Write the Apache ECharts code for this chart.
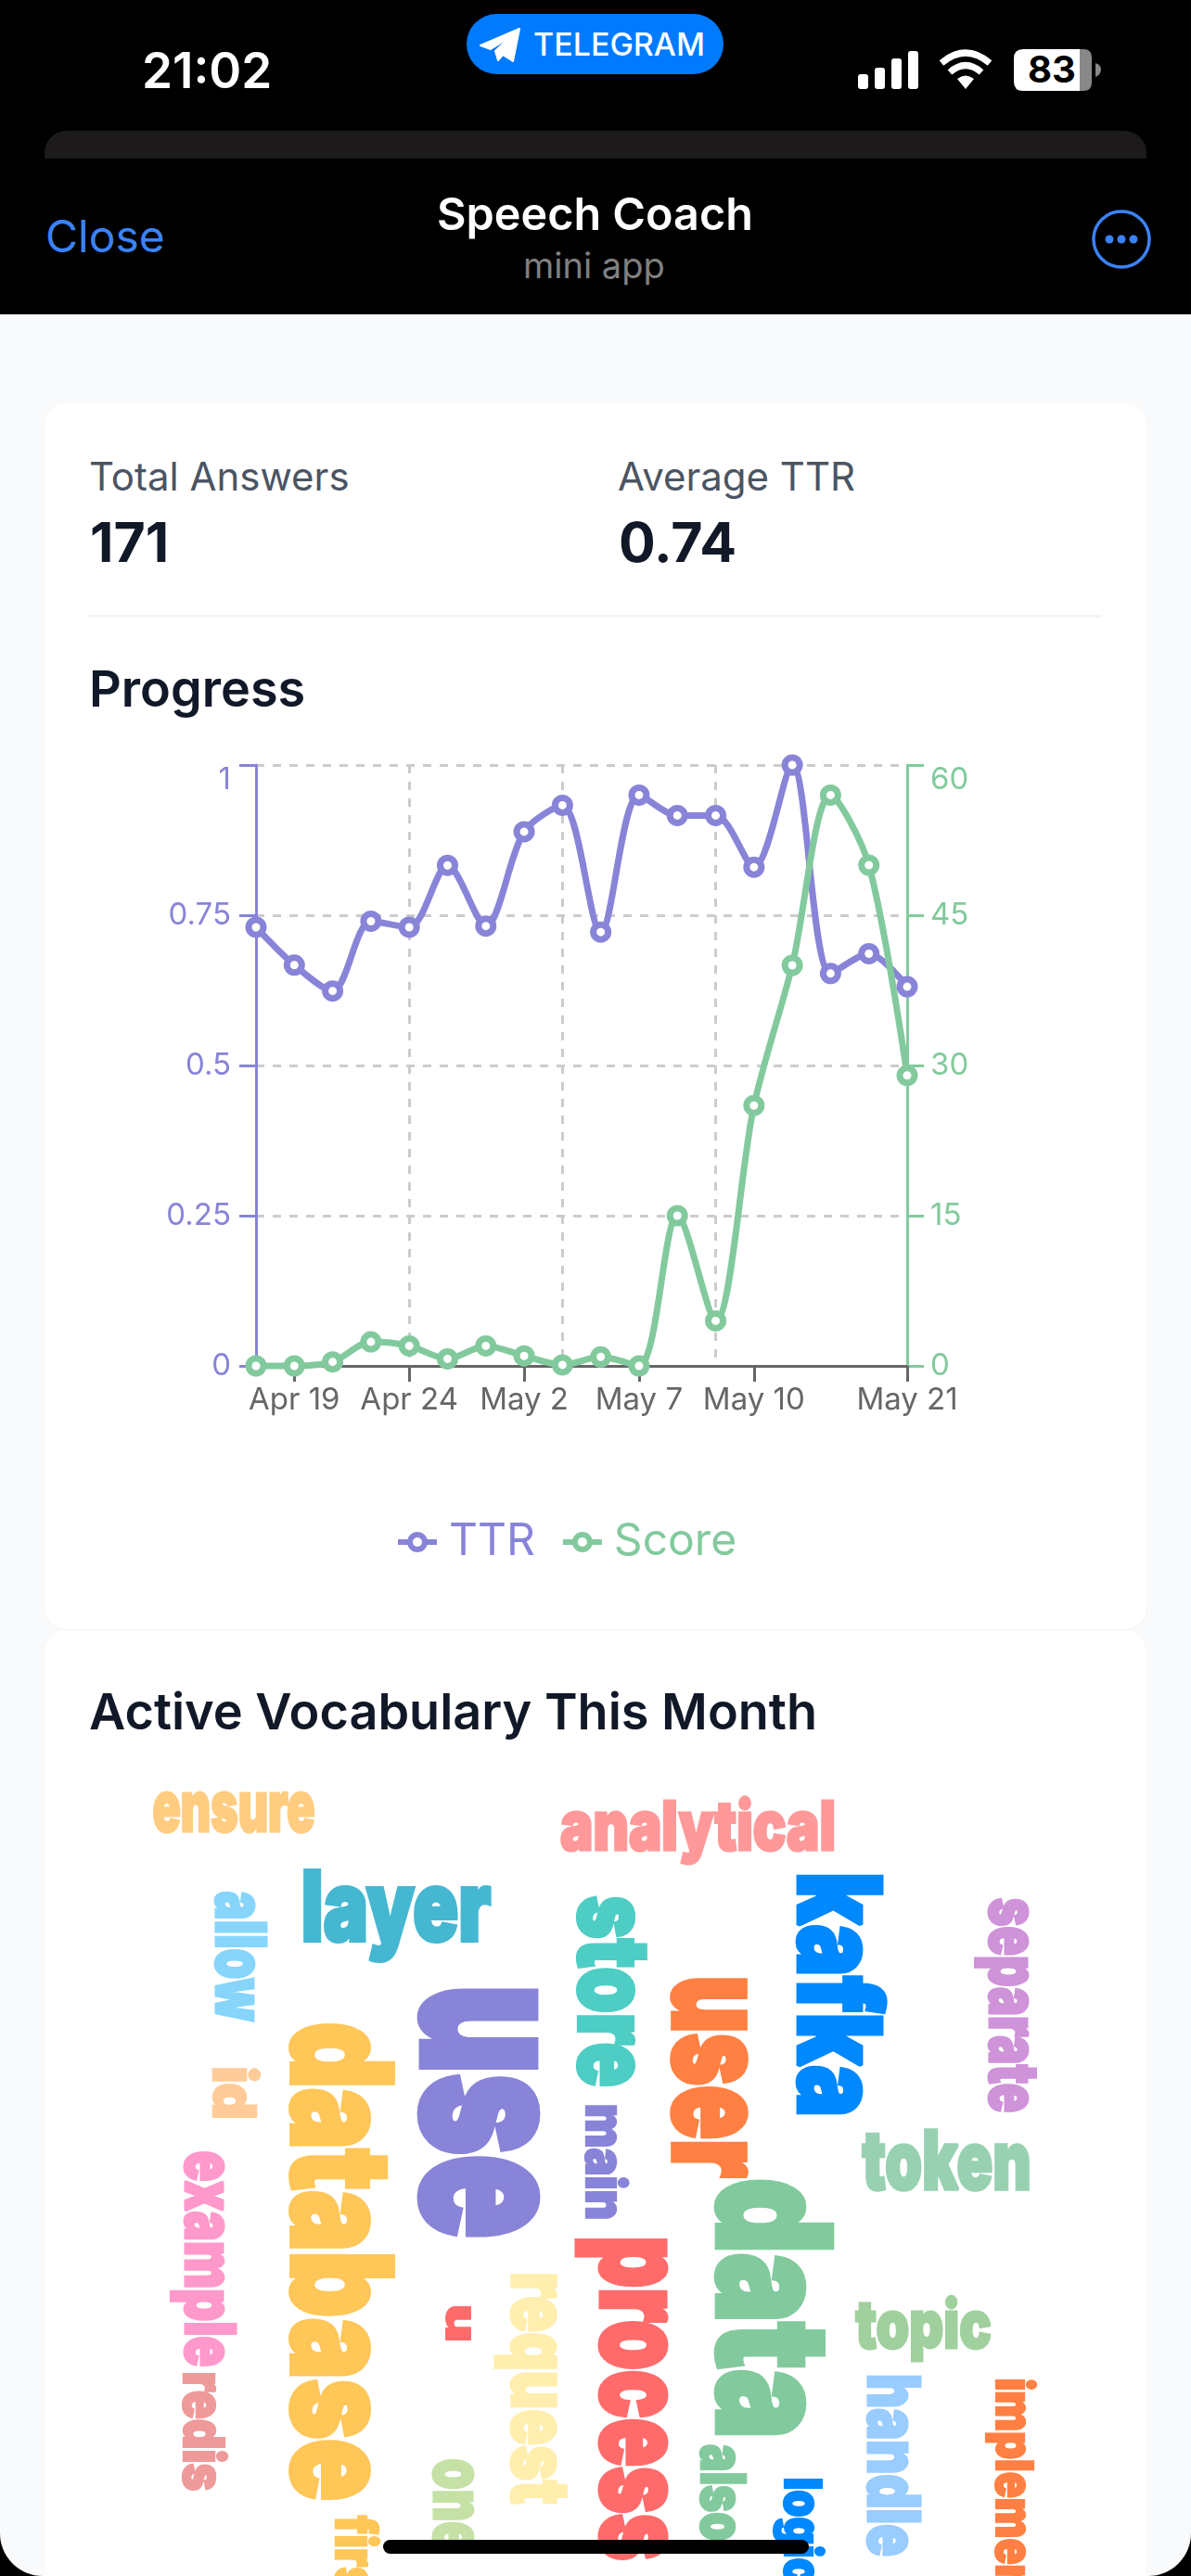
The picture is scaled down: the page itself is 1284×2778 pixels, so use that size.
<!DOCTYPE html>
<html>
<head>
<meta charset="utf-8">
<title>Speech Coach</title>
<script src="https://cdn.jsdelivr.net/npm/echarts@6/dist/echarts.min.js"></script>
<style>
html,body{margin:0;padding:0;background:#000;width:1284px;height:2778px;overflow:hidden;}
body{font-family:Inter,"Noto Sans",sans-serif;}
#screen{position:absolute;left:0;top:0;width:1284px;height:2778px;background:#f9fafb;overflow:hidden;border-radius:0 0 46px 46px;}
#topbar{position:absolute;left:0;top:0;width:1284px;height:339px;background:#000;}
#sheet{position:absolute;left:48px;top:141px;width:1188px;height:30px;background:#1c1a1a;border-radius:24px 24px 0 0;}
.t{position:absolute;white-space:nowrap;line-height:1;}
.card{position:absolute;left:48px;width:1188px;background:#fff;border-radius:24px;box-shadow:0 1px 3px rgba(0,0,0,.04);}
#pill{position:absolute;left:503px;top:15px;width:277px;height:65px;border-radius:33px;background:#007aff;}
#homebar{position:absolute;left:413px;top:2739px;width:459px;height:15px;border-radius:8px;background:#000;}
#progress{position:absolute;left:48px;top:760px;width:1188px;height:990px;}
#cloud{position:absolute;left:48px;top:1758px;width:1188px;height:1020px;}
</style>
</head>
<body>
<div id="screen">
  <div id="topbar"></div>
  <div id="sheet"></div>
  <div class="t" style="left:153px;top:50px;font-size:53px;font-weight:600;color:#fff;">21:02</div>
  <div id="pill"></div>
  <svg style="position:absolute;left:516px;top:29px" width="48" height="40" viewBox="0 0 48 40"><path d="M2 20 L44 2 L37 37 L26 30 L21 36 L18 26 L34 11 L13 24 Z" fill="#fff" stroke="#fff" stroke-width="2" stroke-linejoin="round"/></svg>
  <div class="t" style="left:575px;top:31px;font-size:34px;font-weight:500;color:#fff;">TELEGRAM</div>
  <svg style="position:absolute;left:920px;top:50px" width="270" height="52" viewBox="920 50 270 52">
    <g fill="#fff">
      <rect x="925" y="80" width="11" height="16" rx="3"/>
      <rect x="943" y="73" width="11" height="23" rx="3"/>
      <rect x="961" y="63" width="11" height="33" rx="3"/>
      <rect x="979" y="55" width="11" height="41" rx="3"/>
      <path d="M1041 96 L1032 85 Q1041 78 1050 85 Z"/>
    </g>
    <g fill="none" stroke="#fff" stroke-width="7">
      <path d="M1015 68 Q1041 46 1067 68"/>
      <path d="M1024 78 Q1041 63 1058 78"/>
    </g>
    <path d="M1164 53 H1168 Q1177 53 1177 62 V89 Q1177 98 1168 98 H1164 Z" fill="#888"/>
    <path d="M1164 53 H1103 Q1093 53 1093 63 V88 Q1093 98 1103 98 H1164 Z" fill="#fff"/>
    <path d="M1181 68 Q1187 70 1187 75 Q1187 80 1181 83 Z" fill="#888"/>
  </svg>
  <div class="t" style="left:1108px;top:55px;font-size:40px;font-weight:700;color:#000;">83</div>

  <div class="t" style="left:49px;top:231px;font-size:48px;color:#3b82f6;">Close</div>
  <div class="t" style="left:471px;top:207px;font-size:48.5px;font-weight:600;color:#fff;">Speech Coach</div>
  <div class="t" style="left:564px;top:267px;font-size:38px;color:#808080;">mini app</div>
  <svg style="position:absolute;left:1176px;top:225px" width="66" height="66" viewBox="0 0 66 66">
    <circle cx="33" cy="33" r="30" fill="none" stroke="#3b82f6" stroke-width="3.5"/>
    <circle cx="20" cy="33" r="4.5" fill="#3b82f6"/><circle cx="33" cy="33" r="4.5" fill="#3b82f6"/><circle cx="46" cy="33" r="4.5" fill="#3b82f6"/>
  </svg>

  <div class="card" style="top:435px;height:1322px;"></div>
  <div class="card" style="top:1758px;height:1100px;"></div>

  <div class="t" style="left:96px;top:493px;font-size:42px;color:#4b5563;">Total Answers</div>
  <div class="t" style="left:666px;top:493px;font-size:42px;color:#4b5563;">Average TTR</div>
  <div class="t" style="left:97px;top:555px;font-size:59px;font-weight:700;color:#111827;">171</div>
  <div class="t" style="left:667px;top:555px;font-size:59px;font-weight:700;color:#111827;">0.74</div>
  <div style="position:absolute;left:96px;top:663px;width:1092px;height:3px;background:#f3f4f6;"></div>
  <div class="t" style="left:96px;top:716px;font-size:54px;font-weight:600;color:#111827;">Progress</div>
  <div class="t" style="left:96px;top:1819px;font-size:54px;font-weight:600;color:#111827;">Active Vocabulary This Month</div>

  <div id="progress"></div>
  <div id="cloud"></div>
  <div id="homebar"></div>
</div>

<script>
// x axis dates, only the labelled ones are readable in the picture
var dates = ['Apr 18','Apr 19','Apr 20','Apr 22','Apr 24','Apr 26','Apr 29','May 2','May 3','May 5','May 7','May 8','May 9','May 10','May 12','May 15','May 18','May 21'];
var ttr = [0.73,0.667,0.624,0.74,0.73,0.833,0.732,0.889,0.933,0.722,0.95,0.916,0.916,0.83,1,0.653,0.686,0.631];
var score = [0,0,0.4,2.4,2,0.7,2,1,0.1,0.9,0,15,4.5,26,40,57,50,29];

var words = ['use','data','database','kafka','user','process','layer','store','token','request','analytical','topic','handle','allow','example','separate','ensure','id','one','also','redis','first','main','logic','implement','u'];
var wordCounts = [73,61,54,47,47,42,38,36,32,29,29,28,28,27,27,25,25,25,25,24,24,24,23,22,22,16];

var tickIdx = [1,4,7,10,13,17];
var splitIdx = [0,4,8,12];
var purple = '#8884d8', green = '#82ca9d';

var progress = echarts.init(document.getElementById('progress'));
progress.setOption({
  animation: false,
  textStyle: {fontFamily: 'Inter'},
  grid: {left: 228, top: 65, width: 702, height: 648},
  legend: {
    left: 373, top: 874, itemWidth: 42, itemHeight: 20, itemGap: 27,
    itemStyle: {borderWidth: 6},
    lineStyle: {width: 6},
    textStyle: {fontSize: 48, fontFamily: 'Inter', padding: [0,0,0,8]},
    data: [
      {name: 'TTR', textStyle: {color: purple}},
      {name: 'Score', textStyle: {color: green}}
    ]
  },
  xAxis: {
    type: 'category', boundaryGap: false, data: dates,
    axisLine: {onZero: false, lineStyle: {color: '#666', width: 3}},
    axisTick: {length: 17, lineStyle: {color: '#666', width: 3}, interval: function(i){ return tickIdx.indexOf(i) >= 0; }},
    axisLabel: {color: '#666', fontSize: 33, margin: 21, interval: function(i){ return tickIdx.indexOf(i) >= 0; }},
    splitLine: {show: true, lineStyle: {color: '#ccc', width: 3, type: [9,9]}, interval: function(i){ return splitIdx.indexOf(i) >= 0; }}
  },
  yAxis: [{
    type: 'value', min: 0, max: 1, interval: 0.25,
    axisLine: {show: true, lineStyle: {color: purple, width: 3}},
    axisTick: {show: true, length: 18, lineStyle: {color: purple, width: 3}},
    axisLabel: {color: purple, fontSize: 33, margin: 27, verticalAlignMaxLabel: 'top'},
    splitLine: {show: true, lineStyle: {color: '#ccc', width: 3, type: [9,9]}}
  },{
    type: 'value', position: 'right', min: 0, max: 60, interval: 15,
    axisLine: {show: true, lineStyle: {color: green, width: 3}},
    axisTick: {show: true, length: 18, lineStyle: {color: green, width: 3}},
    axisLabel: {color: green, fontSize: 33, margin: 25, verticalAlignMaxLabel: 'top'},
    splitLine: {show: false}
  }],
  series: [
    {name: 'TTR', type: 'line', yAxisIndex: 0, data: ttr, smooth: 0.3, clip: false, showAllSymbol: true,
      symbol: 'circle', symbolSize: 16, lineStyle: {color: purple, width: 7},
      itemStyle: {color: '#fff', borderColor: purple, borderWidth: 7}},
    {name: 'Score', type: 'line', yAxisIndex: 1, data: score, smooth: 0.3, clip: false, showAllSymbol: true,
      symbol: 'circle', symbolSize: 16, lineStyle: {color: green, width: 7},
      itemStyle: {color: '#fff', borderColor: green, borderWidth: 7}}
  ]
});

// The cloud has no scale of its own, so where each word landed is read off the picture.
// [reading start, reading end, baseline], in the page pixels the hidden axes below span
var wordSpots = {
  use:[2145,2409,456], data:[2354,2625,774], database:[2184,2694,315], kafka:[2023,2279,861],
  user:[2133,2346,726], process:[2414,2759,648], layer:[327,527,2093], store:[2046,2249,624],
  token:[931,1110,2361], request:[2452,2699,552], analytical:[606,899,1995], topic:[923,1068,2532],
  handle:[2562,2755,936], allow:[2040,2179,233], example:[2321,2551,200], separate:[2048,2277,1067],
  ensure:[166,338,1975], id:[2231,2283,230], one:[2653,2750,468], also:[2637,2739,756],
  redis:[2559,2685,198], first:[2713,2815,362], main:[2271,2392,632], logic:[2673,2785,846],
  implement:[2566,2813,1074], u:[2488,2523,481]
};
var flatWords = ['layer','token','analytical','topic','ensure'];
var wordColors = {
  use:'#8884d8', data:'#82ca9d', database:'#ffc658', kafka:'#0088fe', user:'#ff8042', process:'#ff6b6b',
  layer:'#45b7d1', store:'#4ecdc4', token:'#98d1b2', request:'#ffeead', analytical:'#ff9999', topic:'#a0d09e',
  handle:'#99ccff', allow:'#87d5fb', example:'#ff99cc', separate:'#ce93d8', ensure:'#ffcc80', id:'#ffcc99',
  one:'#c5e1a5', also:'#82ca9d', redis:'#ef9a9a', first:'#ffc658', main:'#8884d8', logic:'#0088fe',
  implement:'#ff8042', u:'#ff6b6b'
};

var ctx = document.createElement('canvas').getContext('2d');
var cloudFont = '900 100px Inter';

function renderWord(params, api){
  var word = words[api.value(0)];
  var spot = wordSpots[word];
  var flat = flatWords.indexOf(word) >= 0;
  var tall = /[bdfhiklt]/.test(word);
  var size = wordCounts[api.value(0)] * 2;
  var ink = tall ? size : size * 0.83;

  ctx.font = cloudFont;
  ctx.textBaseline = 'middle';
  var m = ctx.measureText(word);
  var toBase = ctx.measureText('x').actualBoundingBoxDescent;
  var inkHigh = m.actualBoundingBoxAscent + toBase;
  var sy = ink / inkHigh;
  var sx = (spot[1] - spot[0]) / (m.actualBoundingBoxLeft + m.actualBoundingBoxRight);
  var along = (spot[0] + spot[1]) / 2;
  var p = flat ? api.coord([along, spot[2]]) : api.coord([spot[2], along]);

  return {
    type: 'text',
    x: flat ? p[0] : p[0] + toBase * sy,
    y: flat ? p[1] - toBase * sy : p[1],
    rotation: flat ? 0 : -Math.PI / 2,
    scaleX: sx,
    scaleY: sy,
    style: {
      text: word, fill: wordColors[word], font: cloudFont,
      stroke: wordColors[word], lineWidth: 4,
      align: 'center', verticalAlign: 'middle'
    }
  };
}

var cloud = echarts.init(document.getElementById('cloud'));
cloud.setOption({
  animation: false,
  grid: {left: 0, right: 0, top: 0, bottom: 0},
  xAxis: {type: 'value', show: false, min: 48, max: 1236},
  yAxis: {type: 'value', show: false, min: 1758, max: 2778, inverse: true},
  series: [{
    type: 'custom', renderItem: renderWord, silent: true, clip: false,
    encode: {x: 0, y: 1},
    data: words.map(function(w, i){ return [i, wordCounts[i]]; })
  }]
});
</script>
</body>
</html>
